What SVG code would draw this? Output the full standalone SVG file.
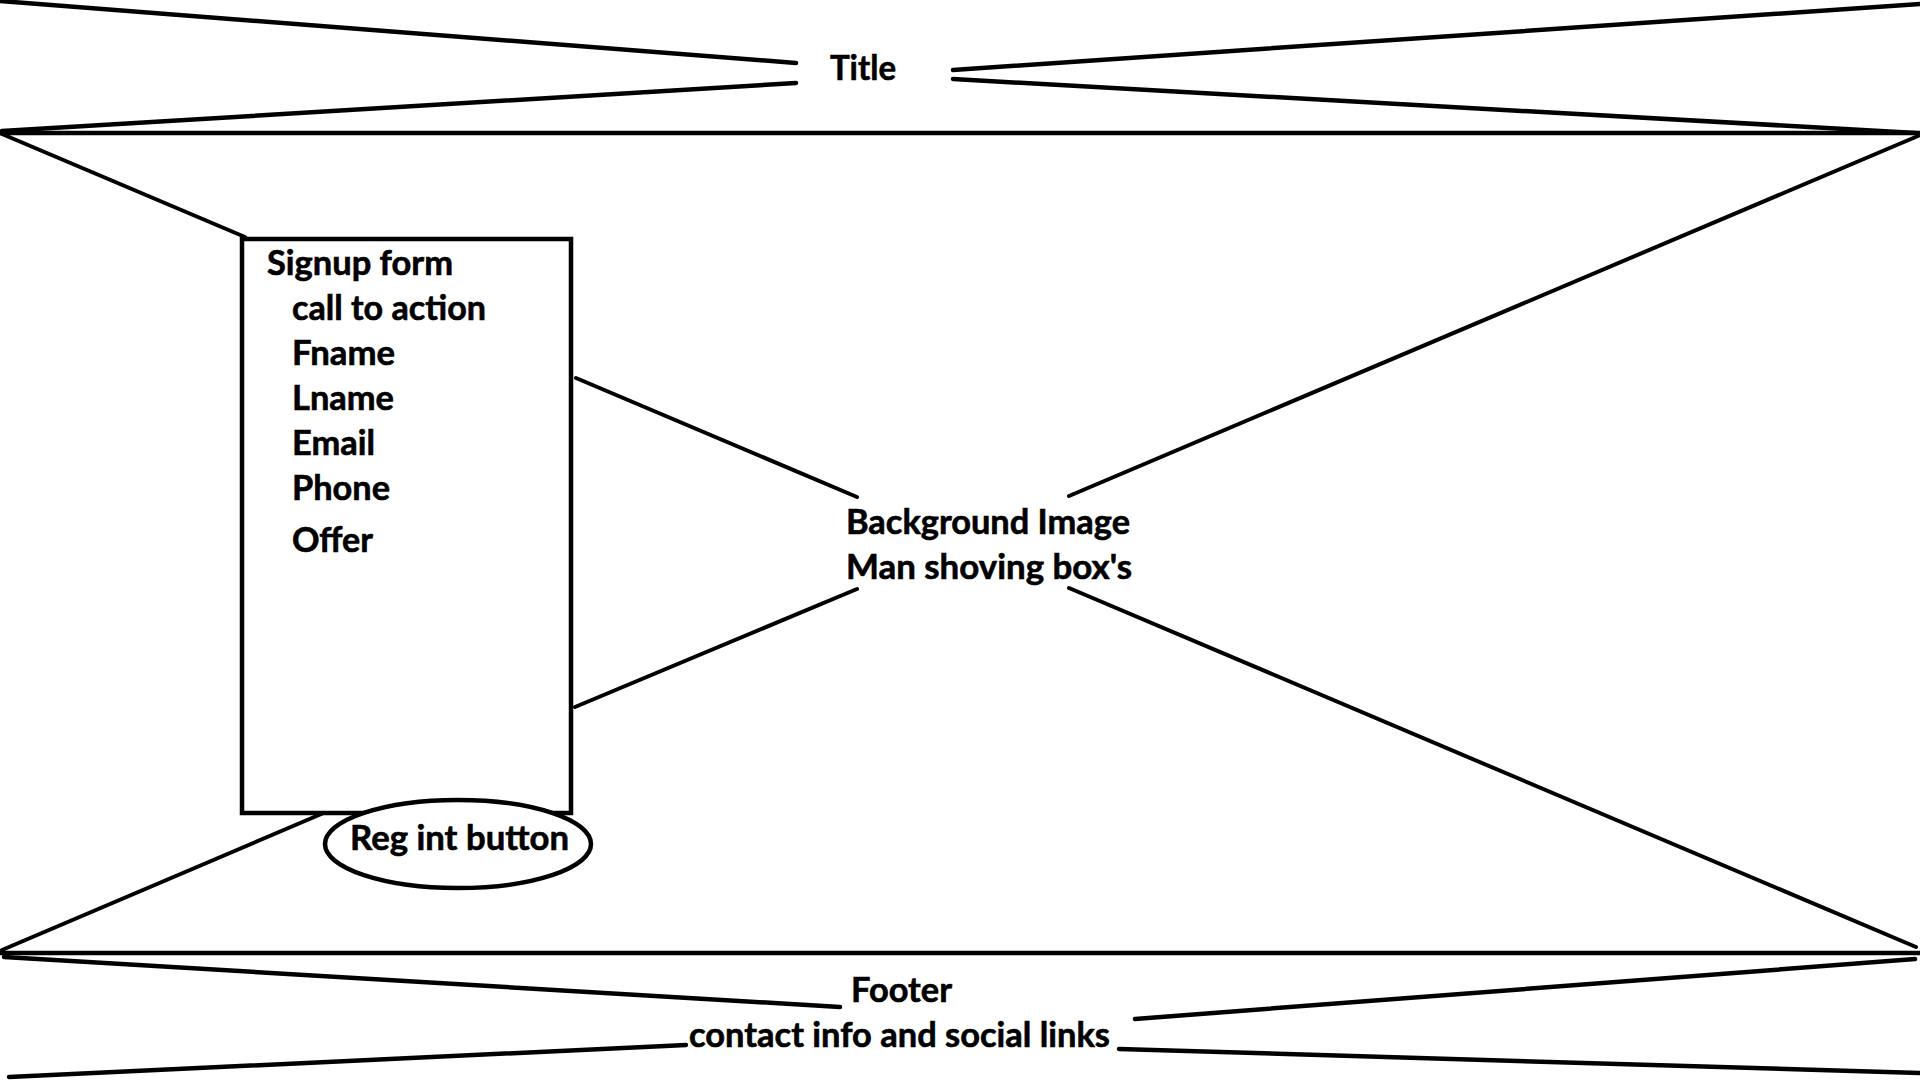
<svg xmlns="http://www.w3.org/2000/svg" width="1920" height="1080" viewBox="0 0 1920 1080">
<style>
.ln{stroke:#000;stroke-width:4.5;fill:none;stroke-linecap:round}
.dg{stroke:#000;stroke-width:4;fill:none;stroke-linecap:round}
.box{stroke:#000;stroke-width:4.5;fill:#fff}
.t{font-family:Lato,"Open Sans",sans-serif;font-weight:bold;font-size:34px;fill:#000;stroke:#000;stroke-width:0.6}
</style>
<rect width="1920" height="1080" fill="#fff"/>
<g id="connectors">
<line class="ln" x1="0" y1="1" x2="796" y2="63"/>
<line class="ln" x1="796" y1="83" x2="2" y2="131"/>
<line class="ln" x1="953" y1="70" x2="1920" y2="4"/>
<line class="ln" x1="953" y1="79" x2="1916" y2="133"/>
<line class="ln" x1="0" y1="133" x2="1920" y2="133"/>
<line class="ln" x1="0" y1="953" x2="1920" y2="953"/>
<line class="dg" x1="2" y1="134" x2="245" y2="237"/>
<line class="dg" x1="576" y1="378" x2="857" y2="497"/>
<line class="dg" x1="1069" y1="588" x2="1916" y2="947"/>
<line class="dg" x1="2" y1="950" x2="333" y2="809"/>
<line class="dg" x1="575" y1="707" x2="857" y2="589"/>
<line class="dg" x1="1069" y1="496" x2="1918" y2="136"/>
<line class="ln" x1="4" y1="957" x2="840" y2="1007"/>
<line class="ln" x1="9" y1="1077" x2="686" y2="1045"/>
<line class="ln" x1="1135" y1="1019" x2="1915" y2="959"/>
<line class="ln" x1="1119" y1="1049" x2="1920" y2="1073"/>
</g>
<g id="title"><text class="t" x="830" y="80" textLength="66" lengthAdjust="spacingAndGlyphs">Title</text></g>
<g id="signup-form">
<rect class="box" x="242" y="239" width="329" height="574"/>
<text class="t" x="267" y="275" textLength="186" lengthAdjust="spacingAndGlyphs">Signup form</text>
<text class="t" x="292" y="320" textLength="194" lengthAdjust="spacingAndGlyphs">call to action</text>
<text class="t" x="292" y="365" textLength="103" lengthAdjust="spacingAndGlyphs">Fname</text>
<text class="t" x="292" y="410" textLength="102" lengthAdjust="spacingAndGlyphs">Lname</text>
<text class="t" x="292" y="455" textLength="83" lengthAdjust="spacingAndGlyphs">Email</text>
<text class="t" x="292" y="500" textLength="98" lengthAdjust="spacingAndGlyphs">Phone</text>
<text class="t" x="292" y="552" textLength="81" lengthAdjust="spacingAndGlyphs">Offer</text>
</g>
<g id="reg-button">
<ellipse class="box" cx="458" cy="844" rx="133" ry="44"/>
<text class="t" x="350" y="850" textLength="219" lengthAdjust="spacingAndGlyphs">Reg int button</text>
</g>
<g id="background">
<text class="t" x="846" y="534" textLength="284" lengthAdjust="spacingAndGlyphs">Background Image</text>
<text class="t" x="846" y="579" textLength="286" lengthAdjust="spacingAndGlyphs">Man shoving box's</text>
</g>
<g id="footer">
<text class="t" x="851" y="1002" textLength="101" lengthAdjust="spacingAndGlyphs">Footer</text>
<text class="t" x="689" y="1047" textLength="421" lengthAdjust="spacingAndGlyphs">contact info and social links</text>
</g>
</svg>
